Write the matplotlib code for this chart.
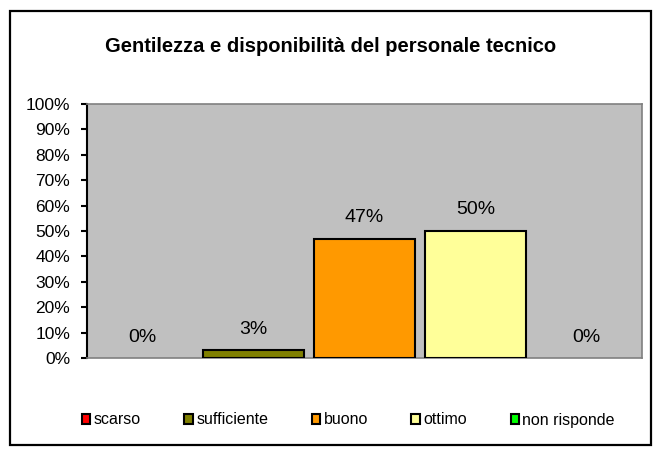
import matplotlib
matplotlib.use("Agg")
import matplotlib.pyplot as plt
from matplotlib.patches import Rectangle, Patch

categories = ["scarso", "sufficiente", "buono", "ottimo", "non risponde"]
values = [0, 3, 47, 50, 0]
labels = ["0%", "3%", "47%", "50%", "0%"]
colors = ["#FF0000", "#808000", "#FF9900", "#FFFF99", "#00FF00"]
yticks = list(range(0, 101, 10))
ytick_labels = [f"{t}%" for t in yticks]
title = "Gentilezza e disponibilità del personale tecnico"

plt.rcParams['font.family'] = ['Liberation Sans', 'DejaVu Sans']

fig = plt.figure(figsize=(6.61, 4.53), dpi=100)
fig.patch.set_facecolor("white")
fig.patches.append(Rectangle((10/661, 8/453), 641/661, 434/453, transform=fig.transFigure,
                             fill=False, edgecolor="black", linewidth=1.6))

ax = fig.add_axes([87/661, 95/453, 555/661, 254/453])
ax.set_facecolor("#C0C0C0")
x = list(range(len(categories)))
lws = [1.5 if v > 0 else 0 for v in values]
ax.bar(x, values, width=0.91, color=colors, edgecolor="black", linewidth=lws, zorder=3)
ax.set_xlim(-0.5, len(categories) - 0.5)
ax.set_ylim(0, 100)
ax.set_yticks(yticks)
ax.set_yticklabels(ytick_labels, fontsize=12.5)
ax.set_xticks([])
ax.tick_params(axis='y', direction='out', length=4, width=1.5, pad=8, colors="black")
for s in ["top", "right", "bottom"]:
    ax.spines[s].set_color("#808080")
    ax.spines[s].set_linewidth(1.2)
ax.spines["left"].set_color("black")
ax.spines["left"].set_linewidth(1.5)

for xi, v, lab in zip(x, values, labels):
    ax.annotate(lab, (xi, v), xytext=(0, 21), textcoords="offset pixels",
                ha="center", va="center", fontsize=14)

fig.text(0.5, (453-46)/453, title, ha="center", va="center", fontsize=14.5, fontweight="bold")

handles = [Patch(facecolor=c, edgecolor="black", linewidth=1.5) for c in colors]
fig.legend(handles, categories, loc="center", bbox_to_anchor=(0.527, (453-420)/453), ncol=5,
           frameon=False, fontsize=11.5, handlelength=0.55, handleheight=0.55, handletextpad=0.2,
           columnspacing=2.72)

fig.savefig("out.png", dpi=100)
